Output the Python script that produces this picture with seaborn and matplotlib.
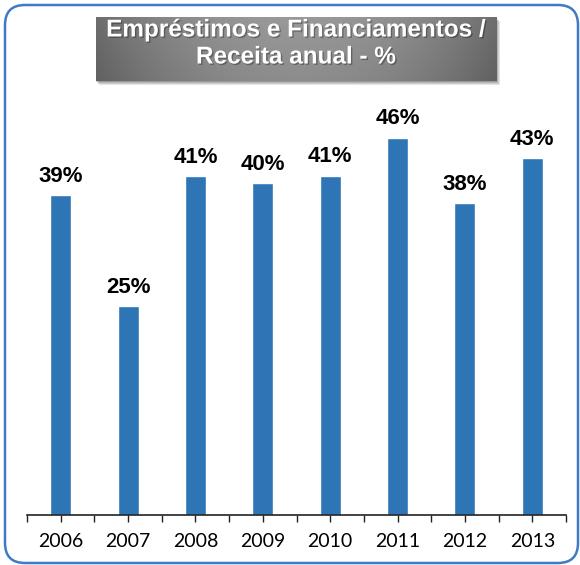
import numpy as np
import pandas as pd
import matplotlib
matplotlib.use("Agg")
import matplotlib.pyplot as plt
import matplotlib.patheffects as pe
from matplotlib.patches import FancyBboxPatch, Rectangle
import seaborn as sns

years = ['2006', '2007', '2008', '2009', '2010', '2011', '2012', '2013']
ratio = [38.7, 25.3, 41.0, 40.2, 41.1, 45.7, 37.8, 43.2]
title_lines = ['Empréstimos e Financiamentos /', 'Receita anual - %']

df = pd.DataFrame({'Ano': years, 'Ratio': ratio})

sns.set_style('white')
plt.rcParams['font.family'] = ['Liberation Sans', 'DejaVu Sans']

W, H = 580, 565
fig = plt.figure(figsize=(W / 100, H / 100), dpi=100)

# background layer in pixel coordinates (border + title box)
bg = fig.add_axes([0, 0, 1, 1], zorder=0)
bg.set_xlim(0, W)
bg.set_ylim(H, 0)
bg.axis('off')

border = FancyBboxPatch((5, 5), 573, 558, boxstyle='round,pad=0,rounding_size=20',
                        facecolor='white', edgecolor='#3D7CC4', linewidth=1.8)
bg.add_patch(border)

# title box: shadow then gradient
for i, a in enumerate([0.10, 0.10, 0.12, 0.15]):
    off = 4 - i
    bg.add_patch(Rectangle((96 + off - 1, 17 + off), 401, 64, facecolor='black',
                           edgecolor='none', alpha=a, zorder=1))
gx = np.linspace(-1, 1, 200)
gy = np.linspace(0, 1, 60)
X, Y = np.meshgrid(gx, gy)
grey = 0.60 - 0.17 * X ** 2 - 0.05 * Y
img = np.dstack([grey, grey, grey])
bg.imshow(img, extent=(96, 497, 81, 17), aspect='auto', zorder=2, interpolation='bilinear')
bg.set_xlim(0, W)
bg.set_ylim(H, 0)

shadow = [pe.withSimplePatchShadow(offset=(1, -1), shadow_rgbFace='black', alpha=0.3)]
bg.text(296, 30, title_lines[0], color='white', fontsize=17.5, fontweight='bold',
        ha='center', va='center', zorder=3, path_effects=shadow)
bg.text(296, 57, title_lines[1], color='white', fontsize=17.5, fontweight='bold',
        ha='center', va='center', zorder=3, path_effects=shadow)

# bar chart
ax = fig.add_axes([27 / W, (H - 515) / H, (566 - 27) / W, (515 - 102) / H], zorder=1)
ax.patch.set_alpha(0)
sns.barplot(x='Ano', y='Ratio', data=df, color='#2E75B6', saturation=1, width=0.31, ax=ax)
ax.set_ylim(0, 50)
ax.set_xlim(-0.5, len(years) - 0.5)
ax.set_xlabel('')
ax.set_ylabel('')
ax.set_yticks([])
for s in ['left', 'top', 'right']:
    ax.spines[s].set_visible(False)
ax.spines['bottom'].set_color('#222222')
ax.spines['bottom'].set_linewidth(1.2)

ax.set_xticks(np.arange(-0.5, len(years), 1.0), minor=True)
ax.tick_params(axis='x', which='both', direction='out', length=5, width=1,
               color='#222222', bottom=True)
ax.tick_params(axis='x', which='major', pad=8, labelsize=14, labelcolor='black')
for lab in ax.get_xticklabels():
    lab.set_fontfamily(['Lato', 'DejaVu Sans'])

for i, v in enumerate(ratio):
    ax.annotate(f'{v:.0f}%', xy=(i, v), xytext=(0, 9.5), textcoords='offset points',
                ha='center', va='baseline', fontsize=16, fontweight='bold', color='black')

plt.savefig('out.png', dpi=100)
plt.close()
